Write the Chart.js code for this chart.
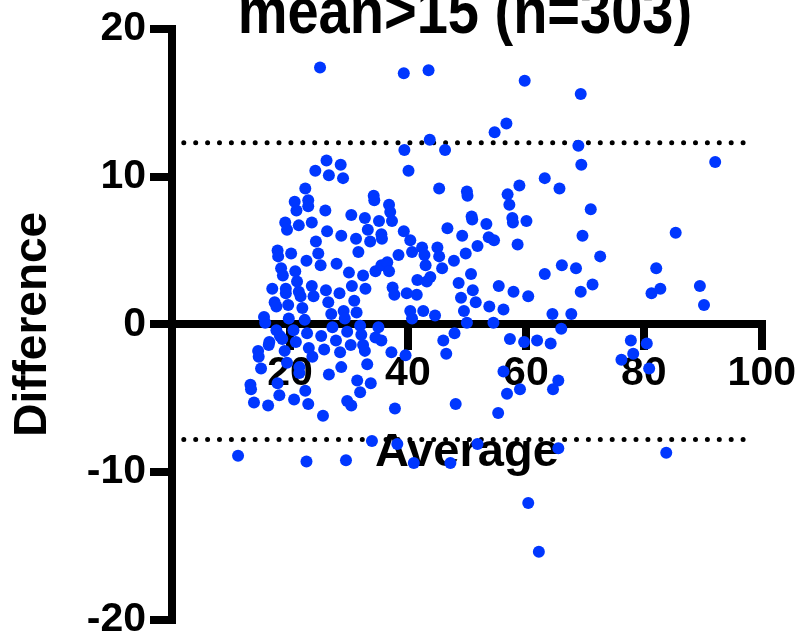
<!DOCTYPE html>
<html>
<head>
<meta charset="utf-8">
<title>mean>15 (n=303)</title>
<script src="https://cdn.jsdelivr.net/npm/chart.js@4.4.1/dist/chart.umd.min.js"></script>
<style>
    html, body { margin: 0; padding: 0; background: #fff; }
    #wrap { position: relative; width: 803px; height: 640px; }
</style>
</head>
<body>
<div id="wrap"><canvas id="baChart"></canvas></div>
<script>
// Bland-Altman: mean of the two methods vs their difference
const average = [
    26.2, 28.6, 24.3, 26.6, 29.0, 39.4, 40.1, 22.6, 20.8, 23.1,
    23.1, 21.1, 34.2, 34.3, 36.8, 37.0, 26.0, 30.4, 32.7, 35.1,
    37.3, 19.2, 19.5, 21.5, 23.7, 26.3, 28.7, 31.2, 33.2, 33.6,
    35.5, 35.6, 39.3, 40.4, 24.4, 31.6, 17.9, 18.0, 20.2, 24.8,
    22.8, 25.2, 27.9, 38.4, 40.7, 42.4, 42.8, 43.0, 18.5, 18.8,
    20.9, 21.2, 30.0, 32.4, 34.5, 35.5, 36.5, 36.8, 41.6, 43.2,
    17.0, 19.3, 19.3, 21.5, 21.8, 23.7, 24.0, 26.1, 28.4, 30.5,
    32.8, 37.4, 37.7, 39.8, 41.5, 17.4, 17.7, 19.7, 22.1, 26.5,
    30.9, 27.0, 29.1, 29.3, 31.3, 40.4, 40.7, 42.6, 15.6, 19.8,
    22.5,
    15.8, 17.7, 18.3, 20.6, 22.9, 25.3, 27.2, 29.7, 31.9, 32.1,
    35.0, 34.5, 35.5, 18.7, 16.5, 16.4, 21.0, 27.8, 30.3, 32.4,
    14.6, 14.7, 19.1, 23.2, 25.8, 28.5, 32.7, 37.2, 39.6, 23.8,
    19.5, 15.1, 21.6, 21.6, 28.7, 33.1, 26.6, 13.3, 13.4, 17.9,
    31.4, 33.7, 22.6, 18.2, 20.7, 31.9, 13.9, 16.3, 23.1, 29.7,
    30.4, 37.8, 25.6, 33.9, 38.2, 11.2, 22.8, 29.5, 41.0,
    43.5, 59.8, 69.3, 56.7, 54.7, 43.7, 46.3, 68.9, 69.4, 92.1,
    45.3, 63.2, 65.7, 58.9, 56.9, 50.0, 50.1, 57.2, 71.0, 50.8,
    50.9, 53.3, 57.7, 57.8, 60.1, 46.7, 49.2, 53.7, 54.6, 58.6,
    69.6, 85.4, 45.0, 45.3, 49.8, 51.8, 47.8, 72.6, 45.8, 66.1,
    68.5, 82.1, 50.7, 63.2, 43.8, 48.6, 55.4, 51.0, 57.9, 69.3,
    71.3, 81.3, 82.8, 89.5, 90.2, 60.4, 49.0, 51.5, 49.5, 53.8,
    56.2, 44.6, 64.5, 67.7, 50.0, 54.5, 66.0,
    25.1, 39.3, 46.0, 47.9, 46.5, 57.3, 59.7, 61.9, 64.2, 56.2,
    59.0, 56.8, 55.3, 65.5, 64.6, 48.1, 77.8, 80.5, 78.2, 76.2,
    80.9, 83.8, 47.2, 51.8, 65.5, 60.4, 62.2
];
const difference = [
    11.1, 10.8, 10.4, 10.1, 9.9, 11.8, 10.4, 9.2, 8.3, 8.4,
    8.0, 7.7, 8.7, 8.4, 8.1, 7.6, 7.7, 7.4, 7.2, 7.0,
    7.0, 6.9, 6.4, 6.7, 6.9, 6.3, 6.0, 5.8, 6.4, 5.6,
    6.1, 5.8, 6.3, 5.7, 5.6, 4.9, 5.0, 4.6, 4.8, 4.8,
    4.3, 4.0, 4.1, 4.7, 4.9, 5.2, 4.7, 4.0, 3.8, 3.3,
    3.6, 2.9, 3.5, 3.3, 3.6, 4.0, 4.2, 3.6, 3.0, 2.9,
    2.4, 2.4, 2.1, 2.2, 1.9, 2.6, 1.9, 2.3, 2.1, 2.6,
    2.4, 2.5, 2.0, 2.1, 2.0, 1.5, 1.2, 1.3, 1.1, 1.5,
    1.6, 0.7, 0.9, 0.4, 0.8, 0.9, 0.4, 0.9, 0.5, 0.4,
    0.3,
    0.1, -0.4, -0.8, -0.4, -0.6, -0.8, -0.2, -0.5, -0.1, -0.7,
    -0.2, -0.9, -1.1, -1.0, -1.2, -1.4, -1.2, -1.1, -1.4, -1.4,
    -1.8, -2.2, -1.8, -1.6, -1.7, -1.9, -1.8, -1.9, -2.1, -2.2,
    -2.6, -3.0, -2.9, -3.3, -2.9, -2.7, -3.4, -4.1, -4.4, -4.0,
    -3.8, -4.0, -4.5, -4.8, -5.1, -4.6, -5.3, -5.5, -5.4, -5.2,
    -5.5, -5.7, -6.2, -7.9, -8.1, -8.9, -9.3, -9.2, -9.4,
    17.2, 16.5, 15.6, 13.6, 13.0, 12.5, 11.8, 12.1, 10.8, 11.0,
    9.2, 9.9, 9.2, 9.4, 8.8, 9.0, 8.7, 8.1, 7.8, 7.3,
    7.1, 6.8, 7.2, 6.9, 7.0, 6.5, 6.0, 5.9, 5.7, 5.4,
    6.0, 6.2, 5.2, 4.6, 4.8, 5.3, 4.3, 4.6, 3.8, 4.0,
    3.8, 3.8, 3.4, 3.4, 3.2, 2.8, 2.6, 2.3, 2.2, 2.2,
    2.7, 2.1, 2.4, 2.6, 1.3, 1.9, 1.8, 1.5, 0.9, 1.2,
    1.0, 0.6, 0.7, 0.7, 0.1, 0.1, -0.3,
    17.4, 17.0, -1.1, -0.6, -2.0, -1.0, -1.2, -1.1, -1.3, -3.2,
    -4.4, -4.7, -6.0, -3.8, -4.4, -5.4, -1.1, -1.3, -2.0, -2.4,
    -3.0, -8.7, -9.4, -8.1, -8.4, -12.1, -15.4
];

// limits of agreement and the span they are drawn over
const upperLimit = 12.3;
const lowerLimit = -7.8;
const limitSpan = [2, 98.6];

const xTicks = [20, 40, 60, 80, 100];
const yTicks = [-20, -10, 0, 10, 20];
const titleText = 'mean>15 (n=303)';

const FONT = '"Liberation Sans", Arial, sans-serif';
Chart.defaults.font.family = FONT;
Chart.defaults.color = '#000';

const points = average.map((a, i) => ({ x: a, y: difference[i] }));
const limitLine = v => limitSpan.map(x => ({ x: x, y: v }));

const dotted = {
    type: 'line',
    borderColor: '#000',
    borderWidth: 5,
    borderDash: [0, 11.9],
    borderCapStyle: 'round',
    pointRadius: 0,
    fill: false
};

// title runs off the top edge; its glyphs are a bit taller than wide
const plotTitle = {
    id: 'plotTitle',
    afterDraw(chart) {
        const { ctx, chartArea } = chart;
        ctx.save();
        ctx.translate((chartArea.left + chartArea.right) / 2 - 2, 33);
        ctx.scale(1, 1.16);
        ctx.font = 'bold 56px ' + FONT;
        ctx.fillStyle = '#000';
        ctx.textAlign = 'center';
        ctx.textBaseline = 'alphabetic';
        ctx.fillText(titleText, 0, 0);
        ctx.restore();
    }
};

const ctx = document.getElementById('baChart').getContext('2d');
const chart = new Chart(ctx, {
    type: 'scatter',
    data: {
        datasets: [
            {
                data: points,
                backgroundColor: '#0037ff',
                borderWidth: 0,
                pointRadius: 6,
                pointHoverRadius: 6
            },
            Object.assign({ data: limitLine(upperLimit) }, dotted),
            Object.assign({ data: limitLine(lowerLimit) }, dotted)
        ]
    },
    options: {
        responsive: true,
        maintainAspectRatio: false,
        animation: false,
        layout: { padding: { top: 29, bottom: 18, left: 0, right: 38 } },
        plugins: {
            legend: { display: false },
            tooltip: { enabled: false }
        },
        scales: {
            x: {
                type: 'linear',
                position: { y: 0 },
                min: 0,
                max: 100,
                afterBuildTicks: s => { s.ticks = xTicks.map(v => ({ value: v })); },
                border: { color: '#000', width: 8 },
                grid: { drawOnChartArea: false, color: '#000', lineWidth: 8, tickWidth: 8, tickLength: 22, tickColor: '#000' },
                ticks: { color: '#000', padding: 7, maxRotation: 0, font: { size: 41, weight: 'bold', lineHeight: 1 } },
                title: {
                    display: true,
                    text: 'Average',
                    color: '#000',
                    padding: { top: 24, bottom: 0 },
                    font: { size: 47, weight: 'bold', lineHeight: 1.2 }
                }
            },
            y: {
                min: -20,
                max: 20,
                afterBuildTicks: s => { s.ticks = yTicks.map(v => ({ value: v })); },
                afterFit: s => { s.width = 172; },
                border: { color: '#000', width: 8 },
                grid: { drawOnChartArea: false, color: '#000', lineWidth: 8, tickWidth: 8, tickLength: 22, tickColor: '#000' },
                ticks: { color: '#000', padding: 4, font: { size: 41, weight: 'bold', lineHeight: 0.8 } },
                title: {
                    display: true,
                    text: 'Difference',
                    color: '#000',
                    padding: { top: 6, bottom: 0 },
                    font: { size: 46, weight: 'bold', lineHeight: 1.2 }
                }
            }
        }
    },
    plugins: [plotTitle]
});
</script>
</body>
</html>
